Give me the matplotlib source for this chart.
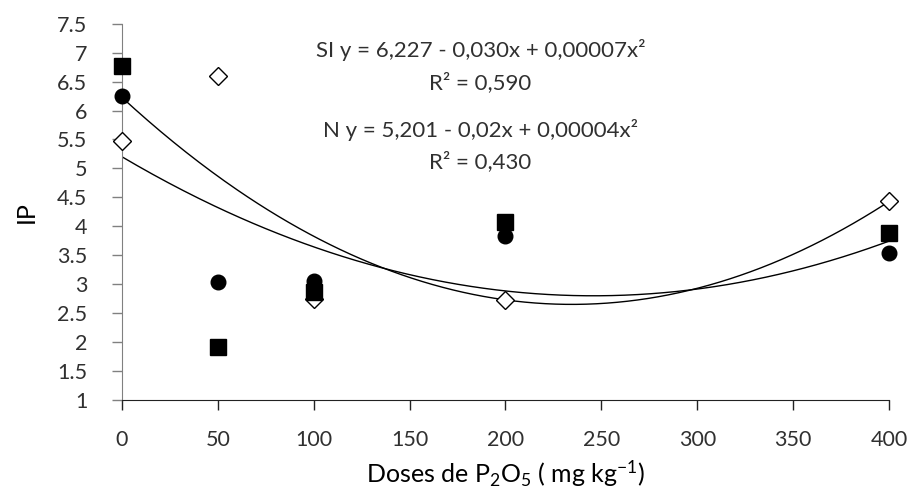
import numpy as np
import matplotlib
matplotlib.use("Agg")
import matplotlib.pyplot as plt

plt.rcParams['font.family'] = ['Lato', 'DejaVu Sans']
plt.rcParams['mathtext.fontset'] = 'custom'
plt.rcParams['mathtext.rm'] = 'Lato'
plt.rcParams['mathtext.it'] = 'Lato:italic'

# doses (mg kg-1)
doses = [0, 50, 100, 200, 400]
# IP values
ip_quadrado = [6.77, 1.92, 2.86, 4.07, 3.88]
ip_circulo = [6.25, 3.04, 3.05, 3.83, 3.54]
ip_losango = [5.48, 6.60, 2.74, 2.72, 4.44]

# coeficientes das curvas (a + b x + c x^2), ajustados ao desenho
coef_si = [6.227, -0.0305, 0.000065]
coef_n = [5.201, -0.01955, 0.00003976]

eq_si = "SI y = 6,227 - 0,030x + 0,00007x²"
r2_si = "R² = 0,590"
eq_n = "N y = 5,201 - 0,02x + 0,00004x²"
r2_n = "R² = 0,430"

fig = plt.figure(figsize=(9.13, 4.96), dpi=100)
ax = fig.add_axes([0.1336, 0.194, 0.8401, 0.758])

xx = np.linspace(0, 400, 300)
for c in (coef_si, coef_n):
    ax.plot(xx, c[0] + c[1] * xx + c[2] * xx ** 2, color="black", lw=1.0, zorder=2)

ax.plot(doses, ip_losango, ls="none", marker="D", ms=9, mfc="white", mec="black",
        mew=1.0, clip_on=False, zorder=3)
ax.plot(doses, ip_quadrado, ls="none", marker="s", ms=11, color="black",
        clip_on=False, zorder=4)
ax.plot(doses, ip_circulo, ls="none", marker="o", ms=10.5, color="black",
        clip_on=False, zorder=5)

cor_txt = "#303030"
ax.text(187, 7.05, eq_si, ha="center", va="center", fontsize=16, color=cor_txt)
ax.text(187, 6.48, r2_si, ha="center", va="center", fontsize=16, color=cor_txt)
ax.text(187, 5.67, eq_n, ha="center", va="center", fontsize=16, color=cor_txt)
ax.text(187, 5.11, r2_n, ha="center", va="center", fontsize=16, color=cor_txt)

ax.set_xlim(0, 400)
ax.set_ylim(1, 7.5)
ax.set_xticks(np.arange(0, 401, 50))
ax.set_yticks(np.arange(1, 7.51, 0.5))
ax.set_yticklabels([("%g" % v) for v in np.arange(1, 7.51, 0.5)])

for s in ("top", "right"):
    ax.spines[s].set_visible(False)
ax.spines["left"].set_color("#808080")
ax.spines["bottom"].set_color("#222222")
ax.tick_params(axis="y", direction="out", length=7, width=1, color="#808080",
               pad=18, labelsize=15.5, labelcolor=cor_txt)
ax.tick_params(axis="x", direction="out", length=7, width=1, color="#222222",
               pad=15, labelsize=15.5, labelcolor=cor_txt)

ax.set_xlabel("Doses de P$_{2}$O$_{5}$ ( mg kg$^{-1}$)", fontsize=18, labelpad=6)
ax.set_ylabel("IP", fontsize=18, labelpad=14)

fig.savefig("out.png", dpi=100)
